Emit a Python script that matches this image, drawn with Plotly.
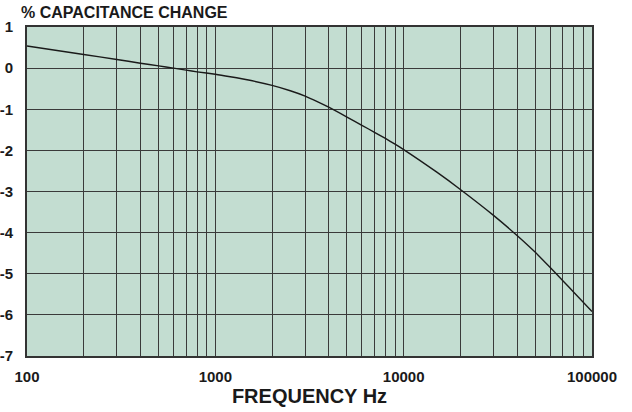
import plotly.graph_objects as go

# curve
freq_hz = [100, 200, 300, 400, 500, 600, 700, 800, 1000, 1200, 1500, 2000,
           2500, 3000, 3500, 4000, 5000, 6000, 7000, 8000, 9000, 10000, 15000,
           20000, 30000, 40000, 50000, 60000, 70000, 80000, 100000]
cap_change = [0.54, 0.33, 0.21, 0.12, 0.055, 0.0, -0.05, -0.09, -0.15, -0.21,
              -0.29, -0.42, -0.55, -0.68, -0.82, -0.95, -1.19, -1.39, -1.56,
              -1.71, -1.85, -1.98, -2.53, -2.95, -3.58, -4.07, -4.48, -4.85,
              -5.17, -5.45, -5.92]

# axis ticks
x_tickvals = [m * 10 ** e for e in range(2, 5) for m in range(1, 10)] + [100000]
x_ticktext = [str(v) if str(v).strip("0") == "1" else "" for v in x_tickvals]
y_tickvals = [1, 0, -1, -2, -3, -4, -5, -6, -7]
y_ticktext = ["1", "0", "-1", "-2", "-3", "-4", "-5", "-6", "-7"]

font_family = "Arial, Liberation Sans, sans-serif"

fig = go.Figure()
fig.add_trace(go.Scatter(
    x=freq_hz, y=cap_change,
    mode="lines",
    line=dict(color="#1a1a1a", width=1.4, shape="spline", smoothing=0.6),
    showlegend=False,
    hoverinfo="skip",
))

fig.update_layout(
    width=632, height=412,
    margin=dict(l=27, r=40, t=27, b=56, autoexpand=False),
    paper_bgcolor="white",
    plot_bgcolor="#c3ddd1",
    font=dict(family=font_family, color="#1a1a1a", size=15, weight="bold"),
    title=dict(
        text="% CAPACITANCE CHANGE",
        x=21 / 632, xanchor="left", xref="container",
        y=1 - 12 / 412, yanchor="middle", yref="container",
        pad=dict(l=0, r=0, t=0, b=0),
        font=dict(size=16, weight="bold", family=font_family),
    ),
    xaxis=dict(
        type="log", range=[2, 5],
        tickvals=x_tickvals, ticktext=x_ticktext,
        showgrid=True, gridcolor="#3a3a3a", gridwidth=1,
        showline=True, linecolor="#333333", linewidth=2, mirror=True,
        ticks="", ticklabelstandoff=6, automargin=False,
        zeroline=False,
        title=dict(text="FREQUENCY Hz", standoff=4,
                   font=dict(size=20, weight="bold", family=font_family)),
    ),
    yaxis=dict(
        range=[-7, 1],
        tickvals=y_tickvals, ticktext=y_ticktext,
        showgrid=True, gridcolor="#3a3a3a", gridwidth=1,
        showline=True, linecolor="#333333", linewidth=2, mirror=True,
        ticks="", ticklabelstandoff=9, automargin=False,
        zeroline=False,
    ),
)

# page body has a default 8px margin; drop it so the figure fills the window
fig.write_html("out.html", config={"displayModeBar": False},
               post_script="document.body.style.margin = '0px';")
